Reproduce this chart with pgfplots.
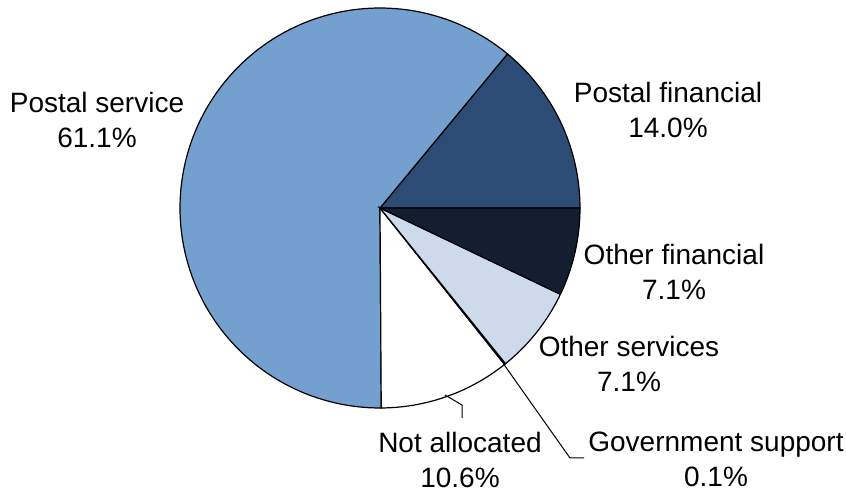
\documentclass[border=0pt]{standalone}
\usepackage{fontspec}
\setmainfont{Liberation Sans}
\usepackage{pgfplots}
\pgfplotsset{compat=1.18}
\usepgfplotslibrary{polar}
\definecolor{cPS}{RGB}{116,160,207}
\definecolor{cPF}{RGB}{44,76,117}
\definecolor{cOF}{RGB}{20,30,48}
\definecolor{cOS}{RGB}{205,218,236}
\definecolor{cNA}{RGB}{255,255,255}
\definecolor{cGS}{RGB}{230,236,245}
% shares in percent, counter-clockwise from 3 o'clock
\def\pPF{14.0}
\def\pPS{61.1}
\def\pNA{10.6}
\def\pGS{0.1}
\def\pOS{7.1}
\def\pOF{7.1}
\pgfmathsetmacro\aA{0}
\pgfmathsetmacro\aB{\aA+3.6*\pPF}
\pgfmathsetmacro\aC{\aB+3.6*\pPS}
\pgfmathsetmacro\aD{\aC+3.6*\pNA}
\pgfmathsetmacro\aE{\aD+3.6*\pGS}
\pgfmathsetmacro\aF{\aE+3.6*\pOS}
\pgfmathsetmacro\aG{\aF+3.6*\pOF}
\begin{document}
\fontsize{14}{17.5}\selectfont
\begin{tikzpicture}
\useasboundingbox (-190pt,-141pt) rectangle (233pt,104pt);
\begin{polaraxis}[
  hide axis, scale only axis, width=200pt, height=200pt,
  xmin=0, xmax=360, ymin=0, ymax=1,
  at={(0,0)}, anchor=center, clip=false]
\addplot[fill=cPF, draw=black, line width=0.6pt, domain=\aA:\aB, samples=40] {1} -- (axis cs:0,0) -- cycle;
\addplot[fill=cPS, draw=black, line width=0.6pt, domain=\aB:\aC, samples=120] {1} -- (axis cs:0,0) -- cycle;
\addplot[fill=cNA, draw=black, line width=0.6pt, domain=\aC:\aD, samples=30] {1} -- (axis cs:0,0) -- cycle;
\addplot[fill=cGS, draw=black, line width=0.6pt, domain=\aD:\aE, samples=2] {1} -- (axis cs:0,0) -- cycle;
\addplot[fill=cOS, draw=black, line width=0.6pt, domain=\aE:\aF, samples=25] {1} -- (axis cs:0,0) -- cycle;
\addplot[fill=cOF, draw=black, line width=0.6pt, domain=\aF:\aG, samples=25] {1} -- (axis cs:0,0) -- cycle;
\end{polaraxis}
% leader lines
\draw[line width=0.5pt] (32.5pt,-93.5pt) -- (41pt,-98.5pt) -- (41pt,-105pt);
\draw[line width=0.5pt] (61.8pt,-78pt) -- (95pt,-125pt) -- (102pt,-125pt);
% labels
\node[align=center] at (-141.5pt,43.75pt) {Postal service\\61.1\%};
\node[align=center] at (144pt,48.75pt) {Postal financial\\14.0\%};
\node[align=center] at (147pt,-32pt) {Other financial\\7.1\%};
\node[align=center] at (124.5pt,-78pt) {Other services\\7.1\%};
\node[align=center] at (40pt,-125.75pt) {Not allocated\\10.6\%};
\node[align=center] at (168pt,-125.75pt) {Government support\\0.1\%};
\end{tikzpicture}
\end{document}
